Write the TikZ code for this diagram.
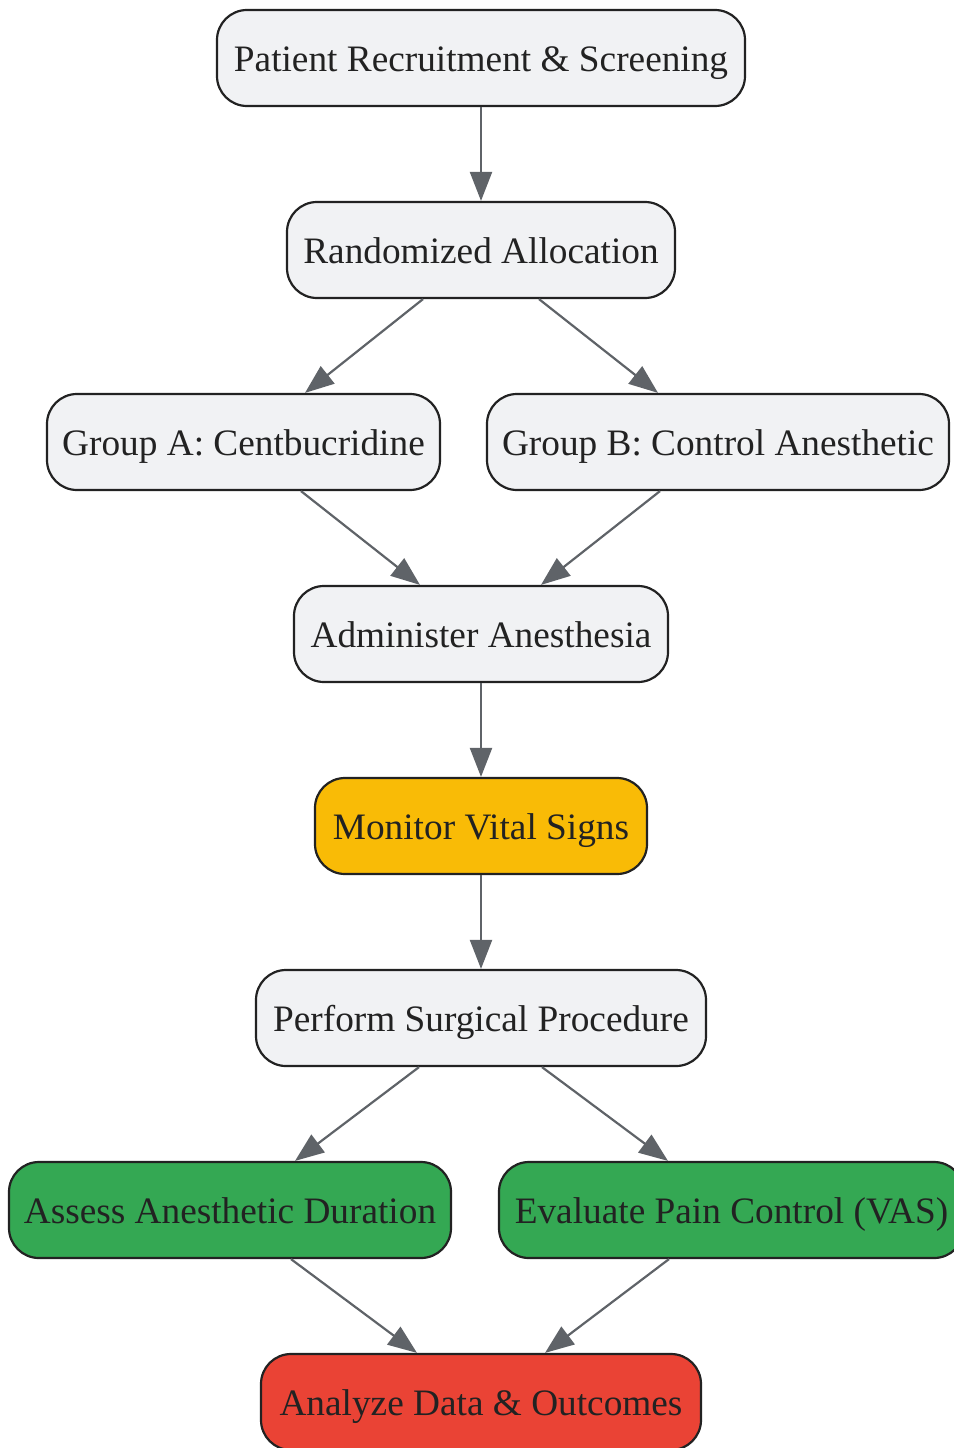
\documentclass[tikz,border=0pt]{standalone}
\usepackage{fontspec}
\setmainfont{Liberation Serif}
\usetikzlibrary{arrows.meta,calc}
\definecolor{boxgray}{HTML}{F1F2F4}
\definecolor{boxyellow}{HTML}{F9BB06}
\definecolor{boxgreen}{HTML}{34A853}
\definecolor{boxred}{HTML}{EA4335}
\definecolor{edgegray}{HTML}{5F6368}
\definecolor{txt}{HTML}{222222}
\begin{document}
\begin{tikzpicture}[x=1pt,y=-1pt,
  stepbox/.style={draw=txt,line width=2.2pt,rounded corners=30pt,fill=boxgray,
    minimum height=96pt,inner sep=0pt,text=txt,text height=30pt,text depth=4pt,
    font=\fontsize{37.3}{44}\selectfont},
  flow/.style={draw=edgegray,line width=2.2pt,-{Triangle[length=29pt,width=22pt]}}]
\useasboundingbox (0,0) rectangle (953,1448);
\node[stepbox,minimum width=528pt] (pat) at (481,58) {Patient Recruitment \& Screening};
\node[stepbox,minimum width=388pt] (rand) at (481,250) {Randomized Allocation};
\node[stepbox,minimum width=393pt] (grpA) at (243.5,442) {Group A: Centbucridine};
\node[stepbox,minimum width=462pt] (grpB) at (718,442) {Group B: Control Anesthetic};
\node[stepbox,minimum width=374pt] (adm) at (481,634) {Administer Anesthesia};
\node[stepbox,minimum width=332pt,fill=boxyellow] (mon) at (481,826) {Monitor Vital Signs};
\node[stepbox,minimum width=450pt] (perf) at (481,1018) {Perform Surgical Procedure};
\node[stepbox,minimum width=442pt,fill=boxgreen] (assess) at (230,1210) {Assess Anesthetic Duration};
\node[stepbox,minimum width=465pt,fill=boxgreen] (eval) at (731.5,1210) {Evaluate Pain Control (VAS)};
\node[stepbox,minimum width=440pt,fill=boxred] (anal) at (481,1402) {Analyze Data \& Outcomes};

\draw[flow] (pat.south) -- (rand.north);
\draw[flow] ([xshift=-58pt]rand.south) -- ([xshift=61.5pt]grpA.north);
\draw[flow] ([xshift=58pt]rand.south) -- ([xshift=-60pt]grpB.north);
\draw[flow] ([xshift=57.5pt]grpA.south) -- ([xshift=-61pt]adm.north);
\draw[flow] ([xshift=-58pt]grpB.south) -- ([xshift=60pt]adm.north);
\draw[flow] (adm.south) -- (mon.north);
\draw[flow] (mon.south) -- (perf.north);
\draw[flow] ([xshift=-62pt]perf.south) -- ([xshift=65pt]assess.north);
\draw[flow] ([xshift=61pt]perf.south) -- ([xshift=-63.5pt]eval.north);
\draw[flow] ([xshift=61pt]assess.south) -- ([xshift=-64pt]anal.north);
\draw[flow] ([xshift=-62.5pt]eval.south) -- ([xshift=64pt]anal.north);
\end{tikzpicture}
\end{document}
